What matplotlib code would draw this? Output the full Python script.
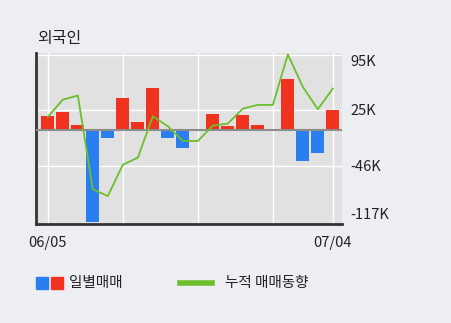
import numpy as np
import matplotlib
matplotlib.use('Agg')
import matplotlib.pyplot as plt
from matplotlib.patches import Rectangle
from matplotlib.lines import Line2D

plt.rcParams['font.family'] = ['Noto Sans CJK KR', 'DejaVu Sans']

# 일별 매매 (K)
daily = [16.9, 22.0, 5.5, -117.0, -10.6, 39.7, 9.3, 52.4, -10.6, -23.2,
         0.0, 19.4, 4.2, 18.2, 5.5, 0.0, 63.8, -39.7, -29.6, 24.5]
# 누적 매매동향 (K)
cumul = [16.1, 38.0, 43.1, -75.6, -84.1, -44.4, -35.5, 16.9, 4.2, -14.4,
         -14.4, 5.1, 7.6, 26.6, 31.3, 31.3, 95.1, 54.1, 25.8, 52.0]
ytick_vals = [95, 25, -46, -117]
ytick_labels = ['95K', '25K', '-46K', '-117K']
xtick_idx = [0, 19]
xtick_labels = ['06/05', '07/04']
vgrid_idx = [0, 5, 10, 15, 19]

bg = '#eceef2'
red = '#f0321e'
blue = '#2a7ff0'
green = '#6cbf2c'
txt = '#222222'

fig = plt.figure(figsize=(4.51, 3.23), dpi=100, facecolor=bg)
ax = fig.add_axes([36 / 451, 99 / 323, 306 / 451, 171 / 323])
ax.set_facecolor('#e1e1e1')

x = np.arange(len(daily))
colors = [red if v >= 0 else blue for v in daily]
ax.bar(x, daily, width=0.87, color=colors, zorder=3)
ax.axhline(0, color='#8c8c8c', lw=1.5, zorder=4)
ax.plot(x, cumul, color=green, lw=1.3, zorder=5)

for i in vgrid_idx:
    ax.axvline(i, color='white', lw=1, zorder=1)
for v in ytick_vals[:3]:
    ax.axhline(v, color='white', lw=1, zorder=1)

ax.set_xlim(-0.79, 19.61)
ax.set_ylim(-119.5, 97)

ax.yaxis.tick_right()
ax.set_yticks(ytick_vals)
ax.set_yticklabels(ytick_labels, fontsize=10.5, color=txt)
ax.tick_params(axis='y', length=0, pad=6)
labs = ax.get_yticklabels()
labs[0].set_va('top')
labs[-1].set_va('bottom')

ax.set_xticks(xtick_idx)
ax.set_xticklabels(xtick_labels, fontsize=10.5, color=txt)
ax.tick_params(axis='x', length=0, pad=9)

for s in ['top', 'right']:
    ax.spines[s].set_visible(False)
for s in ['left', 'bottom']:
    ax.spines[s].set_color('#333333')
    ax.spines[s].set_linewidth(2)

fig.text(37 / 451, 1 - 38 / 323, '외국인', fontsize=11.5, va='center', ha='left', color=txt)

# legend
ly = 1 - 283 / 323
fig.patches.append(Rectangle((36 / 451, ly - 6 / 323), 12 / 451, 12 / 323,
                             transform=fig.transFigure, color=blue))
fig.patches.append(Rectangle((51 / 451, ly - 6 / 323), 12 / 451, 12 / 323,
                             transform=fig.transFigure, color=red))
fig.text(69 / 451, ly, '일별매매', fontsize=10.5, va='center', ha='left', color=txt)
fig.lines.append(Line2D([180 / 451, 212 / 451], [ly, ly], transform=fig.transFigure,
                        color=green, lw=4))
fig.text(225 / 451, ly, '누적 매매동향', fontsize=10.5, va='center', ha='left', color=txt)

fig.savefig('out.png', dpi=100, facecolor=bg)
